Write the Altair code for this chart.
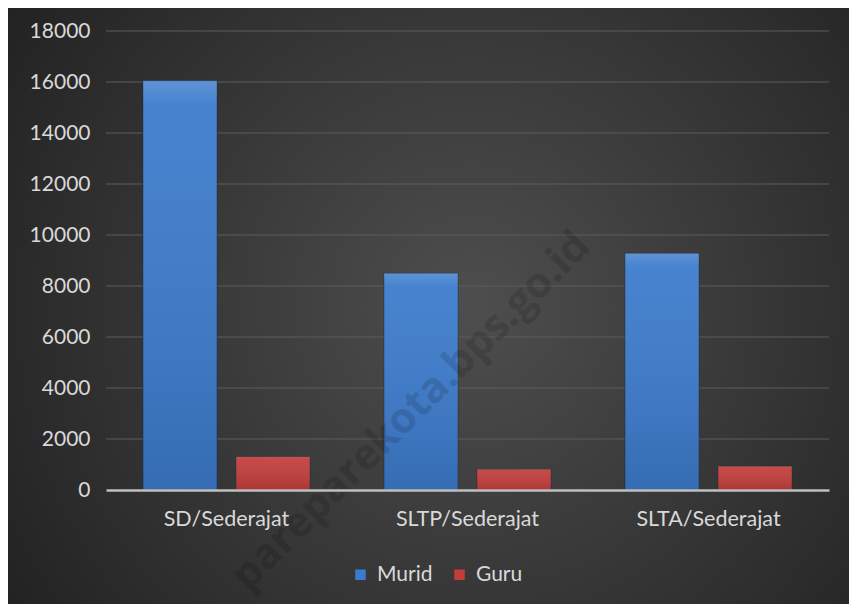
import altair as alt
import pandas as pd

categories = ["SD/Sederajat", "SLTP/Sederajat", "SLTA/Sederajat"]
series = ["Murid", "Guru"]
murid = [16050, 8500, 9280]
guru = [1300, 810, 930]
y_ticks = [0, 2000, 4000, 6000, 8000, 10000, 12000, 14000, 16000, 18000]
watermark = "pareparekota.bps.go.id"

rows = []
for c, m, g in zip(categories, murid, guru):
    rows.append({"kategori": c, "seri": "Murid", "nilai": m})
    rows.append({"kategori": c, "seri": "Guru", "nilai": g})
df = pd.DataFrame(rows)
grid_df = pd.DataFrame({"nilai": y_ticks[1:]})
one = pd.DataFrame({"a": [1]})

FONT = "Lato"
LABEL = "#d9d9d9"

x_enc = alt.X(
    "kategori:N", sort=categories,
    scale=alt.Scale(paddingInner=0.307, paddingOuter=0.1535),
    axis=alt.Axis(title=None, labelAngle=0, labelFont=FONT, labelFontSize=21.5,
                  labelColor=LABEL, labelPadding=18, ticks=False,
                  domainColor="#bfbfbf", domainWidth=2.5, zindex=1),
)
y_enc = alt.Y(
    "nilai:Q",
    scale=alt.Scale(domain=[0, 18000], nice=False),
    axis=alt.Axis(title=None, values=y_ticks, format="d", grid=False, domain=False,
                  ticks=False, labelFont=FONT, labelFontSize=21, labelColor=LABEL,
                  labelPadding=16, zindex=1),
)
xoff = alt.XOffset("seri:N", sort=series,
                   scale=alt.Scale(paddingInner=0.204, paddingOuter=0))

bg = alt.Chart(one).mark_rect(
    fill=alt.RadialGradient(
        gradient="radial", x1=0.55, y1=0.5, r1=0, x2=0.55, y2=0.5, r2=0.75,
        stops=[alt.GradientStop(offset=0, color="#4e4e4e"),
               alt.GradientStop(offset=1, color="#1c1c1c")],
    )
).encode(x=alt.value(-98), x2=alt.value(743), y=alt.value(-23), y2=alt.value(573))

grid = alt.Chart(grid_df).mark_rule(color="#5c5c5c", strokeWidth=1.2).encode(y=y_enc)

bars = alt.Chart(df).mark_bar(stroke="#1a2a40", strokeWidth=0.8, strokeOpacity=0.6).encode(
    x=x_enc, xOffset=xoff, y=y_enc,
    color=alt.Color(
        "seri:N", sort=series,
        scale=alt.Scale(domain=series, range=["#3c7bcc", "#c23e3c"]),
        legend=alt.Legend(title=None, orient="none", direction="horizontal",
                          legendX=244, legendY=533, symbolType="square",
                          symbolSize=110, symbolStrokeWidth=0, labelFont=FONT,
                          labelFontSize=21, labelColor=LABEL, columnPadding=16,
                          labelOffset=6),
    ),
)

shade = alt.Chart(df).mark_bar(
    fill=alt.LinearGradient(
        gradient="linear", x1=0, y1=0, x2=0, y2=1,
        stops=[alt.GradientStop(offset=0, color="rgba(255,255,255,0.18)"),
               alt.GradientStop(offset=0.06, color="rgba(255,255,255,0.06)"),
               alt.GradientStop(offset=1, color="rgba(0,0,0,0.12)")],
    )
).encode(x=x_enc, xOffset=xoff, y=y_enc)

wm = alt.Chart(one).mark_text(
    text=watermark, angle=315, font="Open Sans", fontSize=42, fontWeight="bold",
    color="#000000", opacity=0.13, align="center", baseline="middle",
).encode(x=alt.value(305), y=alt.value(380))

chart = alt.layer(bg, grid, bars, shade, wm).properties(
    width=723, height=459,
    autosize=alt.AutoSizeParams(type="none"),
    padding={"left": 98, "top": 23, "right": 20, "bottom": 114},
    background="#2a2a2a",
).configure_view(stroke=None)

chart.save("out.html", embed_options={"renderer": "svg", "actions": False})
